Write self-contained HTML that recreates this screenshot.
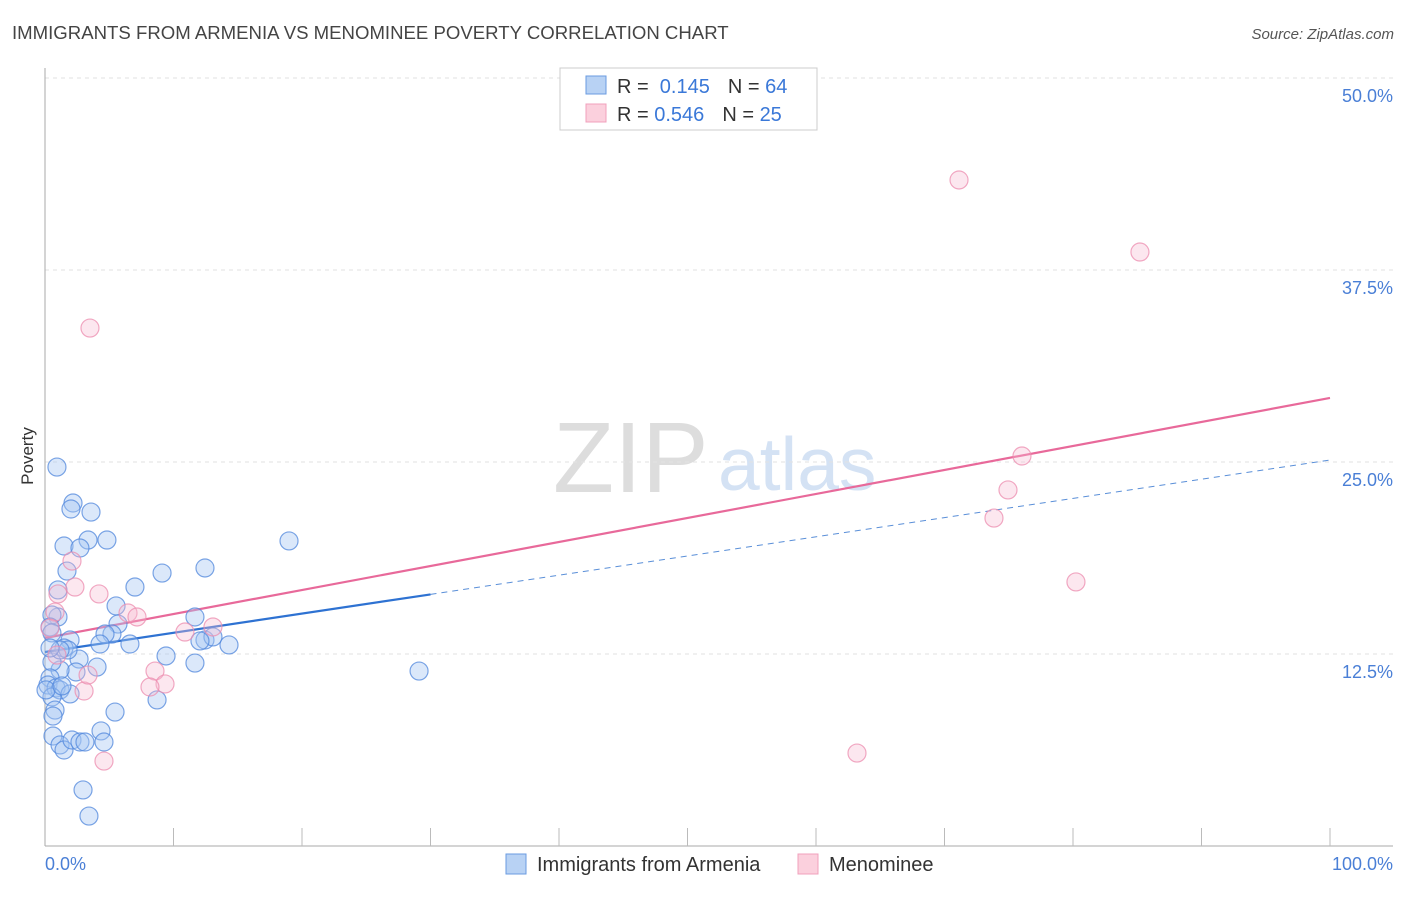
<!DOCTYPE html>
<html><head><meta charset="utf-8"><style>
body{margin:0;background:#fff;font-family:"Liberation Sans",sans-serif}
svg text{font-family:"Liberation Sans",sans-serif}
</style></head><body>
<svg id="chart" width="1406" height="892" xmlns="http://www.w3.org/2000/svg">
<text x="12" y="39" font-size="18.6" fill="#444">IMMIGRANTS FROM ARMENIA VS MENOMINEE POVERTY CORRELATION CHART</text>
<text x="1394" y="39" font-size="15" fill="#555" font-style="italic" text-anchor="end">Source: ZipAtlas.com</text>
<g>
<text x="553" y="492" font-size="100" fill="#ddd" font-family="Liberation Serif,serif">ZIP</text>
<text x="718" y="490" font-size="75" fill="#d4e2f4">atlas</text>
</g>
<g id="grid"></g>
<line x1="45" y1="68" x2="45" y2="846" stroke="#aaa"/>
<line x1="45" y1="846" x2="1393" y2="846" stroke="#aaa"/>
<g id="ticks"></g>
<g id="lines"></g>
<g id="points"></g>
<text transform="translate(33,456) rotate(-90)" font-size="17" fill="#333" text-anchor="middle">Poverty</text>
<text x="45" y="870" font-size="18" fill="#4a7fd6">0.0%</text>
<text x="1393" y="870" font-size="18" fill="#4a7fd6" text-anchor="end">100.0%</text>
<g>
<rect x="560" y="68" width="257" height="62" fill="#fff" stroke="#ccc"/>
<rect x="586" y="76" width="20" height="18" fill="#b8d2f4" stroke="#6a9be0"/>
<rect x="586" y="104" width="20" height="18" fill="#fbd0dd" stroke="#f0a0bc"/>
<text x="617" y="93" font-size="20" fill="#333">R = <tspan fill="#3a78d8">&#160;0.145</tspan><tspan dx="18">N = </tspan><tspan fill="#3a78d8">64</tspan></text>
<text x="617" y="121" font-size="20" fill="#333">R = <tspan fill="#3a78d8">0.546</tspan><tspan dx="18">N = </tspan><tspan fill="#3a78d8">25</tspan></text>
</g>
<g>
<rect x="506" y="854" width="20" height="20" fill="#b8d2f4" stroke="#6a9be0"/>
<text x="537" y="871" font-size="20" fill="#333">Immigrants from Armenia</text>
<rect x="798" y="854" width="20" height="20" fill="#fbd0dd" stroke="#f0a0bc"/>
<text x="829" y="871" font-size="20" fill="#333">Menominee</text>
</g>
</svg>
<script>
const yTicks=[12.5,25,37.5,50];
const yTickLabels=["12.5%","25.0%","37.5%","50.0%"];
const xTicks=[10,20,30,40,50,60,70,80,90,100];
const blueX=[0.93,2.18,2.02,3.58,1.48,3.35,4.82,2.72,1.71,1.01,7.00,9.11,12.45,18.99,5.53,1.01,0.54,11.67,5.68,5.21,4.67,1.95,4.28,6.61,1.48,12.45,13.07,12.06,14.32,9.42,2.65,4.05,2.41,1.17,0.54,11.67,29.11,0.39,0.23,0.86,1.17,1.95,8.72,0.54,0.78,0.62,5.45,4.36,0.62,1.17,1.48,2.10,2.72,3.11,4.59,2.96,3.42,0.39,0.54,1.79,1.17,0.39,0.08,1.32];
const blueY=[24.67,22.33,21.94,21.74,19.53,19.92,19.92,19.40,17.90,16.67,16.86,17.77,18.10,19.86,15.63,14.91,15.04,14.91,14.45,13.80,13.80,13.41,13.15,13.15,12.89,13.41,13.61,13.35,13.09,12.37,12.17,11.65,11.33,11.46,11.98,11.91,11.39,10.94,10.48,10.29,10.16,9.90,9.51,9.70,8.85,8.46,8.72,7.49,7.16,6.58,6.25,6.90,6.77,6.77,6.77,3.65,1.95,14.26,13.87,12.76,12.76,12.89,10.16,10.42];
const pinkX=[3.50,71.13,85.21,76.03,74.94,73.85,80.23,63.19,2.10,1.01,2.33,4.20,6.46,7.16,10.89,13.07,0.78,0.39,8.56,9.34,8.17,3.04,3.35,4.59,0.93];
const pinkY=[33.72,43.36,38.67,25.39,23.18,21.35,17.19,6.05,18.55,16.41,16.86,16.41,15.17,14.91,13.93,14.26,15.23,14.19,11.39,10.55,10.35,10.09,11.13,5.53,12.43];
const blueTrend=[12.63,25.13];
const pinkTrend=[13.54,29.17];
const blueSolidEnd=30;
const NS="http://www.w3.org/2000/svg";
const sx=v=>45+v*12.85;
const sy=v=>846-v*15.36;
function mk(tag,attrs,parent){const e=document.createElementNS(NS,tag);for(const k in attrs)e.setAttribute(k,attrs[k]);document.getElementById(parent).appendChild(e);return e;}
yTicks.forEach((t,i)=>{
 const l=mk('line',{x1:45,x2:1393,y1:sy(t),y2:sy(t),stroke:'#e2e2e2','stroke-dasharray':'4,4'},'grid');
 
 
 const tx=mk('text',{x:1393,y:sy(t)+24,'font-size':18,fill:'#4a7fd6','text-anchor':'end'},'grid');
 tx.textContent=yTickLabels[i];
 
 
});
xTicks.forEach(t=>{
 const l=mk('line',{x1:sx(t),x2:sx(t),y1:828,y2:846,stroke:'#bbb'},'ticks');
 
 
});
function pts(xs,ys,fill,stroke,name){xs.forEach((x,i)=>{
 const c=mk('circle',{cx:sx(x),cy:sy(ys[i]),r:9,fill:fill,stroke:stroke,'stroke-width':1.2},'points');
 
 
});}
pts(blueX,blueY,'rgba(165,198,242,0.4)','rgba(80,135,220,0.75)','armenia-point');
pts(pinkX,pinkY,'rgba(247,185,208,0.35)','rgba(236,140,175,0.75)','menominee-point');
const by=x=>blueTrend[0]+(blueTrend[1]-blueTrend[0])*x/100;
let l1=mk('line',{x1:sx(0),y1:sy(pinkTrend[0]),x2:sx(100),y2:sy(pinkTrend[1]),stroke:'#e8699a','stroke-width':2.2},'lines');


let l2=mk('line',{x1:sx(0),y1:sy(by(0)),x2:sx(blueSolidEnd),y2:sy(by(blueSolidEnd)),stroke:'#2e72d2','stroke-width':2.2},'lines');


let l3=mk('line',{x1:sx(blueSolidEnd),y1:sy(by(blueSolidEnd)),x2:sx(100),y2:sy(by(100)),stroke:'#5a8fd8','stroke-width':1,'stroke-dasharray':'6,5'},'lines');


</script>
</body></html>
